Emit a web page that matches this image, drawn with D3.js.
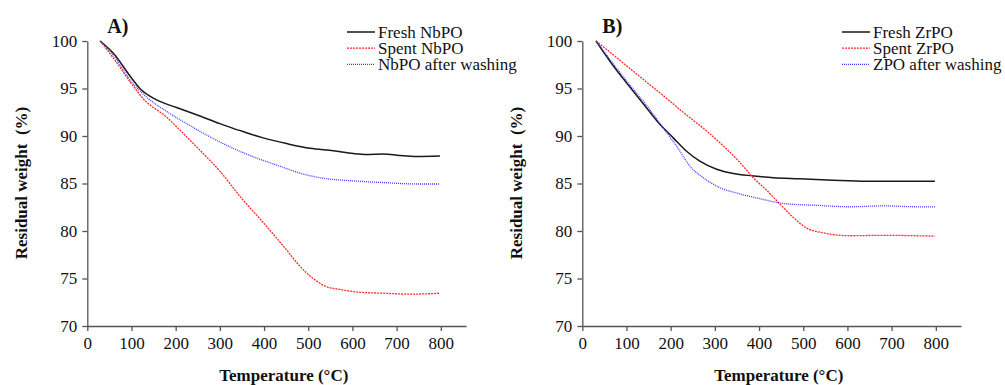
<!DOCTYPE html>
<html>
<head>
<meta charset="utf-8">
<script src="https://cdn.jsdelivr.net/npm/d3@7"></script>
<style>
  body { margin: 0; background: #fff; }
  svg text { font-family: "Liberation Serif", "Times New Roman", serif; fill: #111; }
  .axis path, .axis line { stroke: #555; stroke-width: 1.3; }
  .axis text { font-size: 17px; }
  .axis-label { font-size: 17px; font-weight: bold; }
  .panel-title { font-size: 20px; font-weight: bold; }
  .legend text { font-size: 17px; }
</style>
</head>
<body>
<div id="chart"></div>
<script>
// ---- data ----
const xTicks = [0, 100, 200, 300, 400, 500, 600, 700, 800];
const yTicks = [70, 75, 80, 85, 90, 95, 100];

// Panel A: NbPO
const freshNbPO = [
  [29, 100], [59, 98.7], [100, 96.1], [119, 95.0], [157, 93.8], [202, 93.0],
  [255, 92.1], [300, 91.3], [330, 90.8], [360, 90.35], [398, 89.8], [451, 89.2],
  [504, 88.7], [557, 88.45], [602, 88.15], [632, 88.05], [670, 88.1], [707, 87.95],
  [745, 87.85], [798, 87.9]
];
const spentNbPO = [
  [29, 100], [59, 98.2], [100, 95.5], [127, 93.9], [179, 92.0], [225, 89.9],
  [255, 88.5], [300, 86.3], [350, 83.4], [400, 80.8], [451, 78.0], [481, 76.3],
  [511, 75.0], [538, 74.2], [572, 73.85], [617, 73.55], [670, 73.45], [730, 73.35],
  [798, 73.45]
];
const washedNbPO = [
  [29, 100], [59, 98.5], [100, 95.7], [134, 94.1], [179, 92.6], [225, 91.3],
  [278, 89.9], [330, 88.7], [376, 87.8], [428, 86.95], [481, 86.1], [534, 85.55],
  [594, 85.3], [670, 85.1], [745, 84.95], [798, 84.95]
];

// Panel B: ZrPO
const freshZrPO = [
  [31, 100], [70, 97.4], [100, 95.6], [138, 93.4], [176, 91.2], [206, 89.8],
  [236, 88.4], [266, 87.35], [304, 86.5], [342, 86.05], [387, 85.8], [432, 85.6],
  [493, 85.5], [568, 85.35], [644, 85.25], [719, 85.25], [798, 85.25]
];
const spentZrPO = [
  [31, 100], [70, 98.55], [100, 97.4], [146, 95.65], [191, 93.95], [236, 92.2],
  [282, 90.5], [327, 88.6], [357, 87.2], [387, 85.6], [417, 84.3], [448, 82.8],
  [478, 81.4], [508, 80.3], [546, 79.8], [606, 79.5], [682, 79.55], [757, 79.5],
  [798, 79.45]
];
const washedZrPO = [
  [31, 100], [70, 97.6], [100, 95.8], [146, 93.2], [183, 90.85], [214, 88.9],
  [244, 86.8], [274, 85.6], [312, 84.55], [357, 83.9], [402, 83.4], [455, 82.9],
  [531, 82.7], [606, 82.55], [682, 82.65], [757, 82.55], [798, 82.55]
];

const styles = [
  { color: "#1a1a1a", dash: null,  width: 1.5 },
  { color: "#ff2a2a", dash: "2,1", width: 1.3 },
  { color: "#3c3cff", dash: "1,1", width: 1.3 }
];

const panels = [
  { title: "A)", left: 87.3, names: ["Fresh NbPO", "Spent NbPO", "NbPO after washing"],
    series: [freshNbPO, spentNbPO, washedNbPO], legendX: 347 },
  { title: "B)", left: 582.3, names: ["Fresh ZrPO", "Spent ZrPO", "ZPO after washing"],
    series: [freshZrPO, spentZrPO, washedZrPO], legendX: 842 }
];

const fullW = 1005, fullH = 385;
const svg = d3.select("#chart").append("svg")
  .attr("width", fullW).attr("height", fullH);

const plotTop = 41, plotBottom = 326, plotW = 378.7;
const serif = '"Liberation Serif", "Times New Roman", serif';

panels.forEach(p => {
  const x = d3.scaleLinear().domain([0, 857]).range([p.left, p.left + plotW]);
  const y = d3.scaleLinear().domain([70, 100]).range([plotBottom, plotTop]);

  // Axes
  svg.append("g").attr("class", "axis")
    .attr("transform", `translate(0,${plotBottom})`)
    .attr("font-family", serif)
    .call(d3.axisBottom(x).tickValues(xTicks).tickSize(5).tickSizeOuter(0).tickPadding(6));
  svg.append("g").attr("class", "axis")
    .attr("transform", `translate(${p.left},0)`)
    .call(d3.axisLeft(y).tickValues(yTicks).tickSize(5).tickSizeOuter(0).tickPadding(5));
  svg.selectAll(".axis").attr("font-family", serif);

  // Axis labels
  svg.append("text")
    .attr("class", "axis-label")
    .attr("text-anchor", "middle")
    .attr("x", p.left + 196.5)
    .attr("y", 381)
    .text("Temperature (°C)");

  svg.append("text")
    .attr("class", "axis-label")
    .attr("text-anchor", "middle")
    .attr("transform", `translate(${p.left - 60},183) rotate(-90)`)
    .style("white-space", "pre")
    .text("Residual weight  (%)");

  svg.append("text")
    .attr("class", "panel-title")
    .attr("x", p.left + 20)
    .attr("y", 33)
    .text(p.title);

  // Lines
  const line = d3.line()
    .x(d => x(d[0]))
    .y(d => y(d[1]))
    .curve(d3.curveMonotoneX);

  p.series.forEach((s, i) => {
    svg.append("path")
      .datum(s)
      .attr("fill", "none")
      .attr("stroke", styles[i].color)
      .attr("stroke-width", styles[i].width)
      .attr("stroke-dasharray", styles[i].dash)
      .attr("d", line);
  });

  // Legend
  const lg = svg.append("g").attr("class", "legend");
  p.names.forEach((name, i) => {
    const ly = 32 + i * 16.2;
    lg.append("line")
      .attr("x1", p.legendX).attr("x2", p.legendX + 28)
      .attr("y1", ly).attr("y2", ly)
      .attr("stroke", styles[i].color)
      .attr("stroke-width", styles[i].width)
      .attr("stroke-dasharray", styles[i].dash);
    lg.append("text")
      .attr("x", p.legendX + 31)
      .attr("y", ly + 5.5)
      .text(name);
  });
});
</script>
</body>
</html>
